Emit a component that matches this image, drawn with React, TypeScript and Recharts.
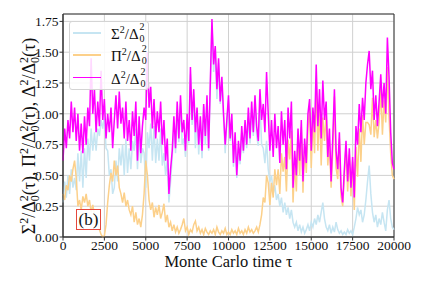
import React from 'react';
import { LineChart, Line, XAxis, YAxis, CartesianGrid, Legend, ReferenceArea } from 'recharts';

const tau = Array.from({ length: 201 }, (_, i) => i * 100);

const sigma2 = [
  0.28, 0.45, 0.32, 0.50, 0.35, 0.55, 0.40, 0.48, 0.38, 0.68,
  0.45, 0.70, 0.40, 0.72, 0.48, 0.80, 0.62, 0.88, 0.70, 0.85,
  0.70, 0.88, 0.82, 0.95, 0.88, 0.98, 0.72, 0.70, 0.50, 0.55,
  0.35, 0.40, 0.62, 0.45, 0.72, 0.58, 0.75, 0.50, 0.80, 0.52,
  0.72, 0.55, 0.78, 0.70, 0.88, 0.55, 0.82, 0.60, 0.72, 0.68,
  0.40, 0.85, 0.72, 0.92, 0.62, 0.90, 0.60, 0.80, 0.62, 0.88,
  0.58, 0.68, 0.50, 0.62, 0.28, 0.45, 0.65, 0.88, 0.68, 1.02,
  0.77, 1.09, 0.75, 0.80, 0.65, 0.92, 0.76, 1.32, 0.91, 1.10,
  0.72, 1.00, 0.67, 0.95, 0.64, 1.06, 0.75, 1.11, 0.70, 1.20,
  1.74, 1.34, 1.53, 1.12, 1.41, 1.08, 1.25, 0.97, 0.68, 0.93,
  1.11, 0.78, 0.94, 0.57, 0.80, 0.48, 0.71, 0.59, 0.85, 0.68,
  0.89, 0.72, 0.97, 0.76, 1.04, 0.82, 1.10, 0.82, 0.74, 1.10,
  0.75, 0.72, 0.60, 0.78, 0.55, 0.45, 0.50, 0.35, 0.42, 0.30,
  0.35, 0.25, 0.32, 0.20, 0.28, 0.18, 0.24, 0.15, 0.22, 0.12,
  0.08, 0.12, 0.05, 0.10, 0.04, 0.08, 0.03, 0.06, 0.10, 0.05,
  0.12, 0.08, 0.15, 0.10, 0.18, 0.12, 0.20, 0.28, 0.15, 0.08,
  0.05, 0.10, 0.03, 0.08, 0.04, 0.12, 0.06, 0.03, 0.05, 0.02,
  0.04, 0.02, 0.06, 0.03, 0.05, 0.02, 0.08, 0.15, 0.24, 0.18,
  0.22, 0.12, 0.18, 0.30, 0.45, 0.58, 0.35, 0.20, 0.12, 0.18,
  0.08, 0.15, 0.10, 0.20, 0.12, 0.05, 0.22, 0.30, 0.15, 0.08,
  0.06,
];

const pi2 = [
  0.35, 0.30, 0.42, 0.38, 0.50, 0.45, 0.55, 0.62, 0.48, 0.25,
  0.30, 0.22, 0.33, 0.28, 0.35, 0.25, 0.30, 0.20, 0.26, 0.18,
  0.15, 0.12, 0.06, 0.02, 0.00, 0.01, 0.10, 0.28, 0.42, 0.52,
  0.45, 0.62, 0.50, 0.58, 0.40, 0.35, 0.28, 0.36, 0.25, 0.30,
  0.22, 0.18, 0.25, 0.12, 0.20, 0.10, 0.15, 0.08, 0.18, 0.35,
  0.62, 0.50, 0.30, 0.22, 0.28, 0.16, 0.24, 0.18, 0.26, 0.15,
  0.20, 0.27, 0.12, 0.18, 0.08, 0.12, 0.05, 0.10, 0.04, 0.08,
  0.03, 0.06, 0.10, 0.15, 0.05, 0.08, 0.02, 0.06, 0.04, 0.10,
  0.13, 0.05, 0.08, 0.03, 0.06, 0.02, 0.07, 0.04, 0.02, 0.05,
  0.03, 0.06, 0.02, 0.08, 0.04, 0.02, 0.05, 0.03, 0.07, 0.02,
  0.04, 0.02, 0.06, 0.03, 0.05, 0.02, 0.07, 0.03, 0.05, 0.02,
  0.06, 0.03, 0.08, 0.04, 0.06, 0.03, 0.05, 0.08, 0.04, 0.10,
  0.18, 0.32, 0.28, 0.50, 0.44, 0.26, 0.44, 0.32, 0.55, 0.42,
  0.55, 0.35, 0.68, 0.53, 0.65, 0.37, 0.79, 0.63, 0.86, 0.28,
  0.60, 0.37, 0.81, 0.50, 0.89, 0.36, 0.75, 0.52, 0.88, 1.05,
  0.56, 0.95, 0.68, 1.28, 0.70, 1.06, 0.58, 0.97, 0.78, 1.00,
  0.58, 0.76, 0.40, 0.70, 1.14, 0.56, 0.47, 0.80, 0.33, 0.25,
  0.49, 0.74, 0.37, 0.67, 0.33, 0.61, 0.22, 0.73, 0.49, 0.88,
  0.61, 0.99, 0.75, 0.93, 0.93, 0.91, 0.83, 1.13, 0.81, 0.95,
  0.80, 0.93, 1.20, 0.83, 1.11, 0.93, 1.38, 0.98, 0.68, 0.50,
  0.47,
];

const delta2 = [
  0.62, 0.88, 0.72, 0.95, 0.80, 1.10, 0.85, 1.05, 0.78, 1.00,
  0.70, 0.92, 0.68, 0.98, 0.75, 1.05, 0.90, 1.45, 1.00, 1.20,
  0.85, 1.10, 0.90, 1.35, 0.95, 1.12, 0.80, 1.00, 0.85, 1.05,
  0.72, 0.95, 1.15, 0.88, 1.18, 0.92, 1.05, 0.80, 1.10, 0.78,
  0.95, 0.70, 1.02, 0.82, 1.10, 0.62, 0.98, 0.68, 0.90, 1.05,
  0.95, 1.50, 1.05, 1.22, 0.88, 1.12, 0.80, 1.02, 0.85, 1.10,
  0.75, 0.95, 0.62, 0.80, 0.35, 0.55, 0.70, 0.98, 0.72, 1.10,
  0.80, 1.15, 0.85, 0.95, 0.70, 1.00, 0.78, 1.38, 0.95, 1.20,
  0.85, 1.05, 0.75, 0.98, 0.70, 1.08, 0.82, 1.15, 0.72, 1.25,
  1.77, 1.40, 1.55, 1.20, 1.45, 1.10, 1.30, 1.00, 0.75, 0.95,
  1.15, 0.80, 1.00, 0.60, 0.85, 0.50, 0.78, 0.62, 0.90, 0.70,
  0.95, 0.75, 1.05, 0.80, 1.10, 0.85, 1.15, 0.90, 0.78, 1.20,
  0.95, 1.08, 0.85, 1.34, 1.00, 0.70, 0.95, 0.65, 1.00, 0.72,
  0.90, 0.60, 1.02, 0.75, 0.95, 0.55, 1.05, 0.80, 1.10, 0.40,
  0.70, 0.50, 0.88, 0.62, 0.95, 0.45, 0.80, 0.60, 1.00, 1.12,
  0.70, 1.05, 0.85, 1.40, 0.90, 1.20, 0.80, 1.27, 0.95, 1.10,
  0.65, 0.88, 0.45, 0.80, 1.20, 0.70, 0.55, 0.85, 0.40, 0.28,
  0.55, 0.78, 0.45, 0.72, 0.40, 0.65, 0.32, 0.90, 0.75, 1.08,
  0.85, 1.13, 0.95, 1.25, 1.40, 1.51, 1.20, 1.35, 0.95, 1.15,
  0.90, 1.10, 1.32, 1.05, 1.25, 1.00, 1.62, 1.30, 0.85, 0.60,
  0.55,
];

const xTicks = [0, 2500, 5000, 7500, 10000, 12500, 15000, 17500, 20000];
const yTicks = [0, 0.25, 0.5, 0.75, 1.0, 1.25, 1.5, 1.75];
const seriesSymbols = ['Σ', 'Π', 'Δ'];
const seriesColors = ['#c6e5f2', '#fcd08a', '#ff00ff'];

const data = tau.map((t, i) => ({ t, s: sigma2[i], p: pi2[i], d: delta2[i] }));

const SERIF = "'Liberation Serif', 'Times New Roman', serif";

const Stack = () => (
  <span style={{ display: 'inline-block', position: 'relative', width: 7, height: 10 }}>
    <span style={{ position: 'absolute', left: 1, top: -7, fontSize: 10, lineHeight: '10px' }}>2</span>
    <span style={{ position: 'absolute', left: 1, top: 5, fontSize: 10, lineHeight: '10px' }}>0</span>
  </span>
);

const LegendBox = () => {
  const rows = [11, 33, 55.5];
  return (
    <div
      style={{
        position: 'relative',
        width: 80,
        height: 69,
        boxSizing: 'border-box',
        border: '1px solid #d4d4d4',
        borderRadius: 3,
        background: 'rgba(255,255,255,0.85)',
        fontFamily: SERIF,
        fontSize: 15,
        color: '#111',
      }}
    >
      {seriesSymbols.map((sym, i) => (
        <React.Fragment key={sym}>
          <div
            style={{
              position: 'absolute',
              left: 3,
              width: 28,
              top: rows[i] - 0.75,
              height: 1.5,
              background: seriesColors[i],
            }}
          />
          <div
            style={{
              position: 'absolute',
              left: 41,
              top: rows[i] - 9,
              height: 20,
              lineHeight: '20px',
              whiteSpace: 'nowrap',
            }}
          >
            {sym}
            <span style={{ fontSize: 10, position: 'relative', top: -6 }}>2</span>
            /Δ
            <Stack />
          </div>
        </React.Fragment>
      ))}
    </div>
  );
};

const YLabel = () => {
  const ss = 12;
  const parts: React.ReactNode[] = [];
  seriesSymbols.forEach((sym, i) => {
    const last = i === seriesSymbols.length - 1;
    parts.push(<tspan key={`a${i}`}>{sym}</tspan>);
    parts.push(<tspan key={`b${i}`} dy={-7} fontSize={ss}>2</tspan>);
    parts.push(<tspan key={`c${i}`} dy={7}>/Δ</tspan>);
    parts.push(<tspan key={`d${i}`} dy={4} fontSize={ss}>0</tspan>);
    parts.push(<tspan key={`e${i}`} dx={-6} dy={-11} fontSize={ss}>2</tspan>);
    parts.push(<tspan key={`f${i}`} dy={7}>{last ? '(τ)' : '(τ),\u00a0'}</tspan>);
  });
  return (
    <svg width={60} height={276} style={{ position: 'absolute', left: 0, top: 0, pointerEvents: 'none' }}>
      <text
        transform="rotate(-90)"
        x={-128}
        y={27}
        textAnchor="middle"
        fontFamily={SERIF}
        fontSize={18}
        fill="#111"
      >
        {parts}
      </text>
    </svg>
  );
};

export default function App() {
  return (
    <div style={{ position: 'relative', width: 417, height: 276 }}>
      <LineChart width={417} height={276} data={data} margin={{ top: 6, right: 31, bottom: 0, left: 0 }}>
        <CartesianGrid stroke="#d0d0d0" strokeWidth={1} />
        <XAxis
          dataKey="t"
          type="number"
          domain={[0, 20000]}
          ticks={xTicks}
          interval={0}
          height={47}
          tickSize={3.5}
          tickMargin={0}
          tick={{ fill: '#111', fontSize: 13.5, fontFamily: SERIF }}
          axisLine={{ stroke: '#333' }}
          tickLine={{ stroke: '#333' }}
          label={{ value: 'Monte Carlo time τ', position: 'insideBottom', offset: 17, fontSize: 16.5, fontFamily: SERIF, fill: '#111' }}
        />
        <YAxis
          type="number"
          domain={[0, 1.81]}
          ticks={yTicks}
          interval={0}
          width={55}
          tickSize={3.5}
          tickMargin={1}
          tickFormatter={(v: number) => v.toFixed(2)}
          tick={{ fill: '#111', fontSize: 13.5, fontFamily: SERIF }}
          axisLine={{ stroke: '#333' }}
          tickLine={{ stroke: '#333' }}
        />
        <Line type="linear" dataKey="s" stroke={seriesColors[0]} strokeWidth={1.5} dot={false} isAnimationActive={false} />
        <Line type="linear" dataKey="p" stroke={seriesColors[1]} strokeWidth={1.5} dot={false} isAnimationActive={false} />
        <Line type="linear" dataKey="d" stroke={seriesColors[2]} strokeWidth={1.5} dot={false} isAnimationActive={false} />
        <ReferenceArea x1={0} x2={20000} y1={0} y2={1.81} fill="none" stroke="#333" strokeWidth={1} ifOverflow="visible" />
        <Legend
          layout="vertical"
          align="center"
          verticalAlign="middle"
          wrapperStyle={{ left: 61, top: 13, width: 80, height: 69 }}
          content={() => <LegendBox />}
        />
      </LineChart>
      <YLabel />
      <div
        style={{
          position: 'absolute',
          left: 68,
          top: 201,
          width: 25,
          height: 21,
          boxSizing: 'border-box',
          border: '1px solid #e5483d',
          background: 'rgba(255,255,255,0.9)',
          fontFamily: SERIF,
          fontSize: 17,
          lineHeight: '19px',
          textAlign: 'center',
          color: '#111',
        }}
      >
        (b)
      </div>
    </div>
  );
}
